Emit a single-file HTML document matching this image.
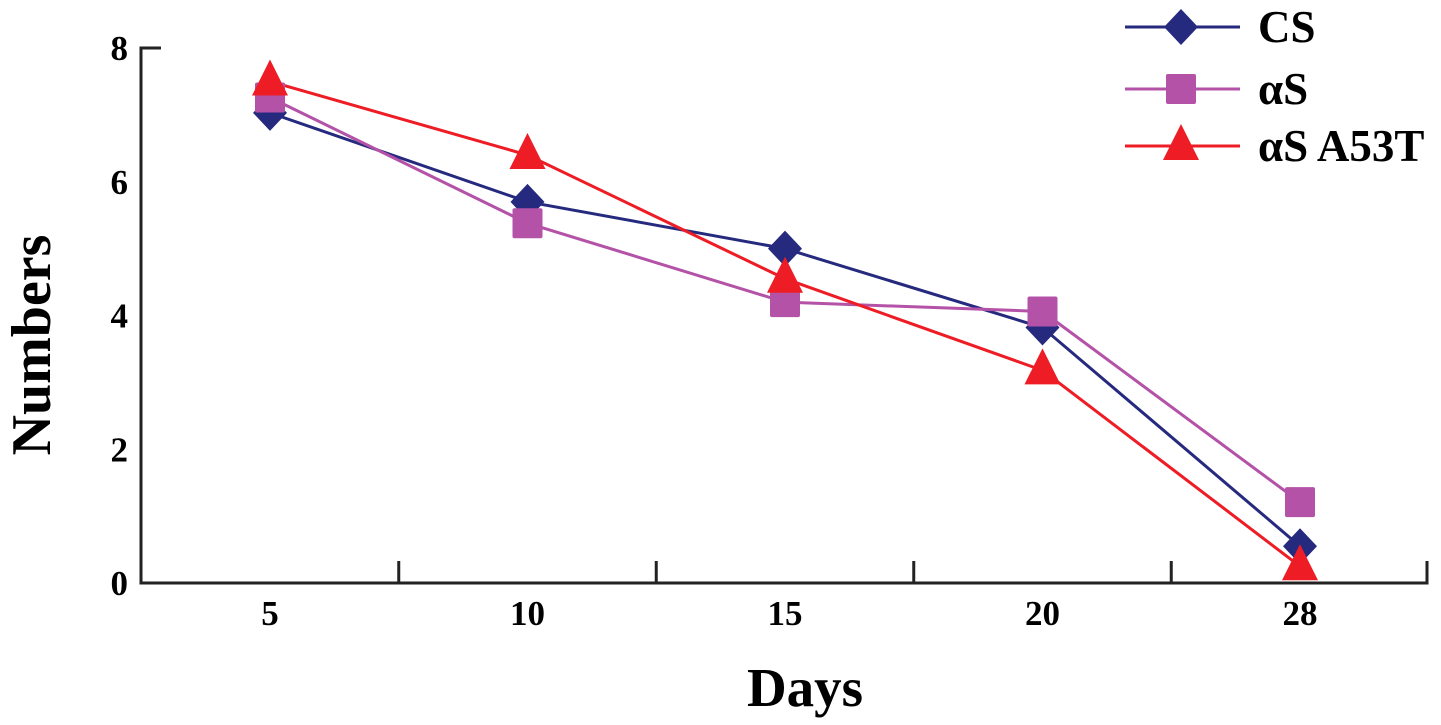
<!DOCTYPE html>
<html><head><meta charset="utf-8"><style>
html,body{margin:0;padding:0;background:#fff;}
svg{display:block;font-family:"Liberation Serif",serif;font-weight:bold;}
</style></head><body>
<svg id="chart" width="1441" height="725" viewBox="0 0 1441 725">
<g id="axes"></g>
<g id="series"></g>
<g id="legend"></g>
<text x="805" y="706" font-size="55" text-anchor="middle">Days</text>
<text transform="translate(50,345) rotate(-90)" font-size="56" text-anchor="middle">Numbers</text>
</svg>
<script>
const categories = ["5","10","15","20","28"];
const yTicks = [0,2,4,6,8];
const seriesNames = ["CS","\u03b1S","\u03b1S A53T"];
const csValues = [7.03,5.7,5.0,3.82,0.55];
const asValues = [7.26,5.38,4.2,4.06,1.21];
const a53tValues = [7.5,6.4,4.55,3.18,0.25];
const NS="http://www.w3.org/2000/svg";
const x0=141,x1=1427,y0=583,yTop=48;
function xPos(i){return 270+i*257.5;}
function yPos(v){return y0-(v/8)*(y0-yTop);}
function mk(tag,attrs,parent){const e=document.createElementNS(NS,tag);for(const k in attrs)e.setAttribute(k,attrs[k]);parent.appendChild(e);return e;}
const axes=document.getElementById('axes');
let e=mk('path',{d:`M${x0+20},${yTop} H${x0} V${y0} H${x1} V${y0-22}`,fill:'none',stroke:'#222','stroke-width':3},axes);


for(let i=0;i<4;i++){const xt=(xPos(i)+xPos(i+1))/2;
 e=mk('line',{x1:xt,x2:xt,y1:y0,y2:y0-22,stroke:'#222','stroke-width':3},axes);
 
 }
yTicks.forEach(v=>{
 e=mk('text',{x:128,y:yPos(v)+12,'font-size':35,'text-anchor':'end'},axes);e.textContent=v;
 
 
});
categories.forEach((c,i)=>{
 e=mk('text',{x:xPos(i),y:625,'font-size':35,'text-anchor':'middle'},axes);e.textContent=c;
 
 
});
function marker(type,cx,cy,color,parent){
 let m;
 if(type==='d') m=mk('polygon',{points:`${cx},${cy-18} ${cx+17},${cy} ${cx},${cy+18} ${cx-17},${cy}`,fill:color},parent);
 else if(type==='s') m=mk('rect',{x:cx-15,y:cy-15,width:30,height:30,rx:2,fill:color},parent);
 else m=mk('polygon',{points:`${cx},${cy-22} ${cx+18},${cy+14} ${cx-18},${cy+14}`,fill:color},parent);
 return m;
}
const defs=[[csValues,'#262a7e','d','cs'],[asValues,'#b452a8','s','as'],[a53tValues,'#ee1c25','t','as-a53t']];
const sg=document.getElementById('series');
defs.forEach(([vals,col,t,nm])=>{
 const g=mk('g',{},sg);
 
 
 e=mk('polyline',{points:vals.map((v,i)=>xPos(i)+','+yPos(v)).join(' '),fill:'none',stroke:col,'stroke-width':3},g);
 
 
});
defs.forEach(([vals,col,t,nm])=>{
 vals.forEach((v,i)=>{
  e=marker(t,xPos(i),yPos(v),col,sg);
  
  
 });
});
const lg=document.getElementById('legend');
defs.forEach(([vals,col,t,nm],k)=>{
 const ly=[27,89,146][k];
 const g=mk('g',{},lg);
 
 
 mk('line',{x1:1125,x2:1240,y1:ly,y2:ly,stroke:col,'stroke-width':3},g);
 marker(t,1181,ly,col,g);
 const tx=mk('text',{x:1258,y:ly+15,'font-size':45},g);tx.textContent=seriesNames[k];
});
</script>
</body></html>
